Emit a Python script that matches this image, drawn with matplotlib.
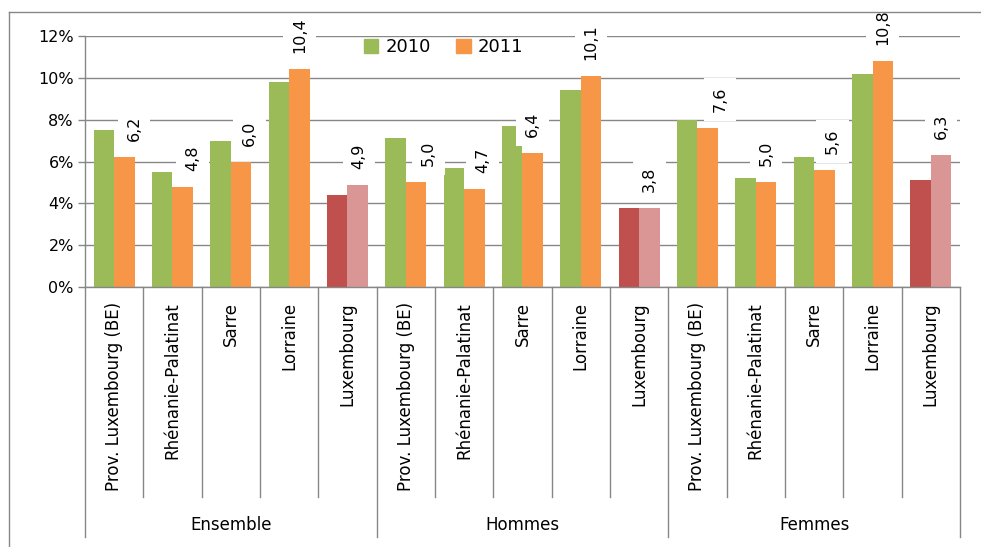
import matplotlib
matplotlib.use("Agg")
import matplotlib.pyplot as plt
import matplotlib.transforms as mtransforms
from matplotlib.patches import Patch
from matplotlib.lines import Line2D

# donnees (taux en %)
groupes = ["Ensemble", "Hommes", "Femmes"]
regions = ["Prov. Luxembourg (BE)", "Rhénanie-Palatinat", "Sarre", "Lorraine", "Luxembourg"]
v2010 = [7.5, 5.5, 7.0, 9.8, 4.4,
         7.1, 5.7, 7.7, 9.4, 3.8,
         8.0, 5.2, 6.2, 10.2, 5.1]
v2011 = [6.2, 4.8, 6.0, 10.4, 4.9,
         5.0, 4.7, 6.4, 10.1, 3.8,
         7.6, 5.0, 5.6, 10.8, 6.3]
etiquettes = ["6,2", "4,8", "6,0", "10,4", "4,9",
              "5,0", "4,7", "6,4", "10,1", "3,8",
              "7,6", "5,0", "5,6", "10,8", "6,3"]
# petit decalage horizontal des etiquettes (points)
decal = [7, 7, 6, 0, 1, 9, 6, 0, 0, 0, 9, 0, 6, 0, 0]

vert, orange = "#9BBB59", "#F79646"
rouge, rose = "#C0504D", "#D99694"
gris = "#878787"

fig = plt.figure(figsize=(9.81, 5.47), dpi=100)
ax = fig.add_axes([0.0866, 0.4753, 0.8920, 0.4589])

n = len(v2010)
x = list(range(n))
w = 0.35
c10 = [rouge if regions[i % 5] == "Luxembourg" else vert for i in x]
c11 = [rose if regions[i % 5] == "Luxembourg" else orange for i in x]
ax.bar([i - w / 2 for i in x], v2010, width=w, color=c10, zorder=2)
ax.bar([i + w / 2 for i in x], v2011, width=w, color=c11, zorder=2)

for i in x:
    ax.annotate(etiquettes[i], (i + w / 2, v2011[i]), xytext=(decal[i], 11.5),
                textcoords="offset points", rotation=90, ha="center", va="bottom",
                fontsize=11.5, zorder=5, annotation_clip=False,
                bbox=dict(boxstyle="square,pad=0.55", fc="white", ec="none"))

ax.set_xlim(-0.5, n - 0.5)
ax.set_ylim(0, 12)
ax.set_yticks(range(0, 13, 2))
ax.set_yticklabels([f"{t}%" for t in range(0, 13, 2)], fontsize=11.5)
ax.yaxis.grid(True, color=gris, lw=1.0, zorder=0)
ax.set_axisbelow(True)
ax.tick_params(axis="y", length=5, color=gris, width=1.0, pad=3)
ax.set_xticks([])
for s in ["top", "right"]:
    ax.spines[s].set_visible(False)
for s in ["left", "bottom"]:
    ax.spines[s].set_color(gris)
    ax.spines[s].set_linewidth(1.0)

# axe des categories a deux niveaux
tr = mtransforms.blended_transform_factory(ax.transData, ax.transAxes)
for b in range(n + 1):
    bas = -0.996 if b % 5 == 0 else -0.837
    ax.plot([b - 0.5, b - 0.5], [0, bas], color=gris, lw=1.0, transform=tr, clip_on=False)
for i in x:
    ax.text(i, -0.06, regions[i % 5], rotation=90, ha="center", va="top",
            fontsize=12, transform=tr)
for g, nom in enumerate(groupes):
    ax.text(g * 5 + 2, -0.948, nom, ha="center", va="center", fontsize=12, transform=tr)

handles = [Patch(color=vert, label="2010"), Patch(color=orange, label="2011")]
ax.legend(handles=handles, loc="center", bbox_to_anchor=(0.41, 0.956), ncol=2,
          frameon=False, fontsize=13, handlelength=0.8, handleheight=0.8,
          handletextpad=0.4, columnspacing=1.4)

# cadre du graphique
fig.add_artist(Line2D([0.009, 0.009], [0, 0.978], color=gris, lw=1.0))
fig.add_artist(Line2D([0.009, 1], [0.978, 0.978], color=gris, lw=1.0))

fig.savefig("out.png", dpi=100)
